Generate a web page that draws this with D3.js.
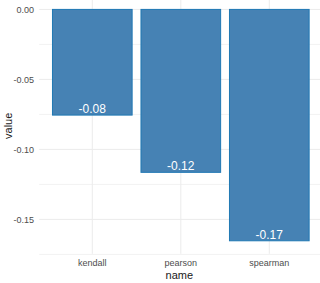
<!DOCTYPE html>
<html><head><meta charset="utf-8">
<script src="https://cdn.jsdelivr.net/npm/d3@7"></script>
<style>body{margin:0;background:#fff}svg{display:block}text{font-family:"Liberation Sans",Arial,sans-serif}</style>
</head><body><svg id="c" width="320" height="283"></svg>
<script>
const names = ["kendall","pearson","spearman"];
const values = [-0.0755,-0.1164,-0.1653];
const labels = ["-0.08","-0.12","-0.17"];
const yTicks = [0,-0.05,-0.10,-0.15];
const yTickLabels = ["0.00","-0.05","-0.10","-0.15"];
const yMinor = [-0.025,-0.075,-0.125,-0.175];

const svg = d3.select("#c");
const L = 39.2, R = 322.4, T = -2.2, B = 253.8;
const x = d3.scaleBand().domain(names).range([L,R]).paddingOuter(0.0556).paddingInner(0.1);
// ggplot-like: centers at integer positions, expansion 0.6
const xc = d3.scalePoint().domain(names).range([L + (R-L)/3.2*0.6, R - (R-L)/3.2*0.6]);
const step = (R-L)/3.2;
const bw = step*0.9;
const y = d3.scaleLinear().domain([-0.1746,0.0083]).range([B,T]);

const g = svg.append("g");
// minor gridlines
g.selectAll(".mn").data(yMinor).enter().append("line")
 .attr("x1",L).attr("x2",R).attr("y1",d=>y(d)).attr("y2",d=>y(d))
 .attr("stroke","#f2f2f2").attr("stroke-width",1);
// major horizontal
g.selectAll(".mj").data(yTicks).enter().append("line")
 .attr("x1",L).attr("x2",R).attr("y1",d=>y(d)).attr("y2",d=>y(d))
 .attr("stroke","#ebebeb").attr("stroke-width",1);
// vertical
g.selectAll(".vx").data(names).enter().append("line")
 .attr("x1",d=>xc(d)).attr("x2",d=>xc(d)).attr("y1",T).attr("y2",B)
 .attr("stroke","#ebebeb").attr("stroke-width",1);

// bars
g.selectAll(".bar").data(names).enter().append("rect")
 .attr("x",d=>xc(d)-bw/2).attr("width",bw)
 .attr("y",(d,i)=>y(0)).attr("height",(d,i)=>y(values[i])-y(0))
 .attr("fill","#4682b4").attr("stroke","#1f78b4").attr("stroke-width",1);

// value labels
g.selectAll(".lbl").data(names).enter().append("text")
 .attr("x",d=>xc(d)).attr("y",(d,i)=>y(values[i])-2)
 .attr("text-anchor","middle").attr("fill","#fff").attr("font-size",12)
 .text((d,i)=>labels[i]);

// y tick labels
g.selectAll(".yt").data(yTicks).enter().append("text")
 .attr("x",34).attr("y",d=>y(d)).attr("dy","0.35em")
 .attr("text-anchor","end").attr("fill","#4d4d4d").attr("font-size",9)
 .text((d,i)=>yTickLabels[i]);

// x tick labels
g.selectAll(".xt").data(names).enter().append("text")
 .attr("x",d=>xc(d)).attr("y",266)
 .attr("text-anchor","middle").attr("fill","#4d4d4d").attr("font-size",9)
 .text(d=>d);

// axis titles
svg.append("text").attr("x",(L+R)/2 - 1.5).attr("y",279).attr("text-anchor","middle")
 .attr("fill","#1a1a1a").attr("font-size",11).text("name");
svg.append("text").attr("transform","translate(11.5,"+((T+B)/2)+") rotate(-90)")
 .attr("text-anchor","middle").attr("fill","#1a1a1a").attr("font-size",11).text("value");
</script></body></html>
